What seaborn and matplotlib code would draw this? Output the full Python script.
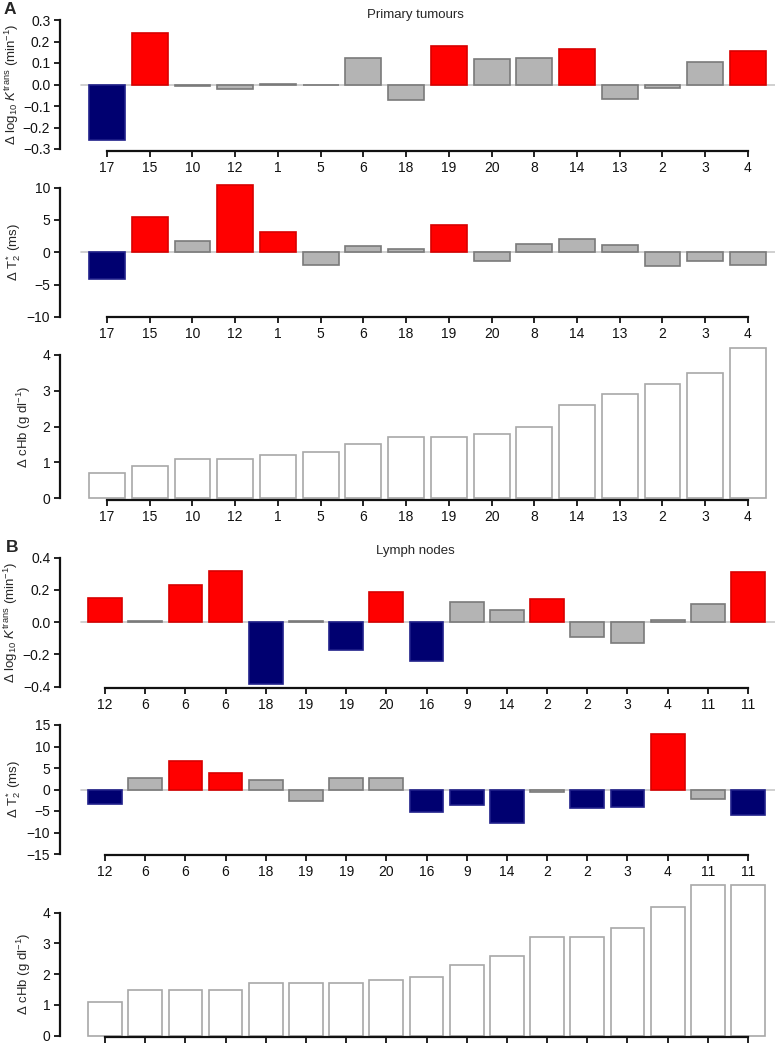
import numpy as np
import pandas as pd
import matplotlib
matplotlib.use("Agg")
import matplotlib.pyplot as plt
import seaborn as sns

# INPUT VALUES
# A - primary tumours
prim_patients = ["17", "15", "10", "12", "1", "5", "6", "18", "19", "20", "8", "14", "13", "2", "3", "4"]
prim_ktrans = [-0.26, 0.24, -0.005, -0.02, 0.003, -0.002, 0.125, -0.072, 0.18, 0.118, 0.125, 0.164,
               -0.068, -0.014, 0.105, 0.156]
prim_ktrans_grp = ["dn", "up", "ns", "ns", "ns", "ns", "ns", "ns", "up", "ns", "ns", "up", "ns", "ns", "ns", "up"]
prim_t2 = [-4.2, 5.4, 1.8, 10.4, 3.2, -2.0, 1.0, 0.5, 4.3, -1.4, 1.3, 2.1, 1.2, -2.1, -1.3, -1.9]
prim_t2_grp = ["dn", "up", "ns", "up", "up", "ns", "ns", "ns", "up", "ns", "ns", "ns", "ns", "ns", "ns", "ns"]
prim_chb = [0.7, 0.9, 1.1, 1.1, 1.2, 1.3, 1.5, 1.7, 1.7, 1.8, 2.0, 2.6, 2.9, 3.2, 3.5, 4.2]

# B - lymph nodes
node_patients = ["12", "6", "6", "6", "18", "19", "19", "20", "16", "9", "14", "2", "2", "3", "4", "11", "11"]
node_ktrans = [0.15, 0.005, 0.23, 0.32, -0.385, 0.005, -0.17, 0.185, -0.24, 0.128, 0.077, 0.143,
               -0.093, -0.132, 0.012, 0.112, 0.313]
node_ktrans_grp = ["up", "ns", "up", "up", "dn", "ns", "dn", "up", "dn", "ns", "ns", "up", "ns", "ns", "ns", "ns", "up"]
node_t2 = [-3.3, 2.6, 6.7, 3.9, 2.2, -2.6, 2.7, 2.7, -5.3, -3.7, -7.8, -0.5, -4.4, -4.0, 12.9, -2.3, -6.0]
node_t2_grp = ["dn", "ns", "up", "up", "ns", "ns", "ns", "ns", "dn", "dn", "dn", "ns", "dn", "dn", "up", "ns", "dn"]
node_chb = [1.1, 1.5, 1.5, 1.5, 1.7, 1.7, 1.7, 1.8, 1.9, 2.3, 2.6, 3.2, 3.2, 3.5, 4.2, 4.9, 4.9]

fill = {"up": "#ff0000", "dn": "#000070", "ns": "#b4b4b4", "hb": "#ffffff"}
edge = {"up": "#d80000", "dn": "#20208a", "ns": "#7a7a7a", "hb": "#a8a8a8"}

lab_k = r"$\Delta$ log$_{10}$ $K^{\rm trans}$ (min$^{-1}$)"
lab_t = r"$\Delta$ T$_2^{\!*}$ (ms)"
lab_h = r"$\Delta$ cHb (g dl$^{-1}$)"

sns.set_style("ticks")
plt.rcParams["font.family"] = ["Liberation Sans", "DejaVu Sans"]
plt.rcParams["mathtext.fontset"] = "custom"
plt.rcParams["mathtext.rm"] = "Liberation Sans"
plt.rcParams["mathtext.it"] = "Liberation Sans:italic"
plt.rcParams["mathtext.bf"] = "Liberation Sans:bold"

W, H = 778, 1043
fig = plt.figure(figsize=(W / 100, H / 100), dpi=100)


def panel(top_px, bot_px, va, pa, vb, pb, tick_px0, tick_step, patients, values, groups,
          yticks, fmt, ylabel, lab_right_px, zero=True, show_labels=True):
    ax = fig.add_axes([60 / W, 1 - bot_px / H, 715 / W, (bot_px - top_px) / H])
    df = pd.DataFrame({"pos": [str(i) for i in range(len(values))], "val": values, "grp": groups})
    pal = [fill[g] for g in groups]
    sns.barplot(data=df, x="pos", y="val", hue="pos", palette=pal, order=list(df["pos"]),
                hue_order=list(df["pos"]), dodge=False, legend=False, errorbar=None,
                width=0.84, saturation=1, ax=ax, zorder=2)
    for p, g in zip(ax.patches, groups):
        p.set_edgecolor(edge[g])
        p.set_linewidth(1.2)
    scale = (va - vb) / (pb - pa)
    ax.set_ylim(vb - (bot_px - pb) * scale, va + (pa - top_px) * scale)
    n = len(values)
    ax.set_xlim((60 - tick_px0) / tick_step, (775 - tick_px0) / tick_step)
    if zero:
        ax.axhline(0, xmin=21 / 715, xmax=1, color="#c8c8c8", lw=1.2, zorder=1)
    ax.set_yticks(yticks)
    ax.set_yticklabels([fmt.format(t).replace("-", "\u2212") for t in yticks], fontsize=10)
    ax.set_xticks(range(n))
    ax.set_xticklabels(patients, fontsize=10)
    ax.tick_params(axis="both", length=4, width=1.3, pad=3, colors="#111111")
    if not show_labels:
        ax.tick_params(axis="x", labelbottom=False)
    sns.despine(ax=ax)
    ax.spines["left"].set_bounds(yticks[0], yticks[-1])
    ax.spines["bottom"].set_bounds(0, n - 1)
    for s in ("left", "bottom"):
        ax.spines[s].set_linewidth(1.6)
        ax.spines[s].set_color("#111111")
    ax.set_xlabel("")
    ax.set_ylabel(ylabel, fontsize=9.5)
    ylo, yhi = ax.get_ylim()
    mid = (yticks[0] + yticks[-1]) / 2
    ax.yaxis.set_label_coords((lab_right_px - 60) / 715, (mid - ylo) / (yhi - ylo))
    return ax


# Panel A
panel(16, 151, 0.3, 20, -0.3, 149, 107, 42.73, prim_patients, prim_ktrans, prim_ktrans_grp,
      [-0.3, -0.2, -0.1, 0.0, 0.1, 0.2, 0.3], "{:.1f}", lab_k, 21)
panel(182, 317, 10, 187.7, -10, 318, 107, 42.73, prim_patients, prim_t2, prim_t2_grp,
      [-10, -5, 0, 5, 10], "{:d}", lab_t, 23)
panel(344, 500, 4, 355, 0, 498, 107, 42.73, prim_patients, prim_chb, ["hb"] * len(prim_chb),
      [0, 1, 2, 3, 4], "{:d}", lab_h, 33, zero=False)

# Panel B
panel(554, 688, 0.4, 557.7, -0.4, 686.7, 105, 40.19, node_patients, node_ktrans, node_ktrans_grp,
      [-0.4, -0.2, 0.0, 0.2, 0.4], "{:.1f}", lab_k, 20)
panel(720, 855, 15, 725, -15, 854, 105, 40.19, node_patients, node_t2, node_t2_grp,
      [-15, -10, -5, 0, 5, 10, 15], "{:d}", lab_t, 23)
panel(880, 1037, 4, 912.7, 0, 1035.7, 105, 40.19, node_patients, node_chb, ["hb"] * len(node_chb),
      [0, 1, 2, 3, 4], "{:d}", lab_h, 33, zero=False, show_labels=False)

fig.text(10 / W, 1 - 10 / H, "A", fontsize=12.5, fontweight="bold", ha="center", va="center")
fig.text(12 / W, 1 - 547 / H, "B", fontsize=12.5, fontweight="bold", ha="center", va="center")
fig.text(415 / W, 1 - 15 / H, "Primary tumours", fontsize=9.5, ha="center", va="center")
fig.text(415 / W, 1 - 551 / H, "Lymph nodes", fontsize=9.5, ha="center", va="center")

fig.savefig("out.png", dpi=100)
